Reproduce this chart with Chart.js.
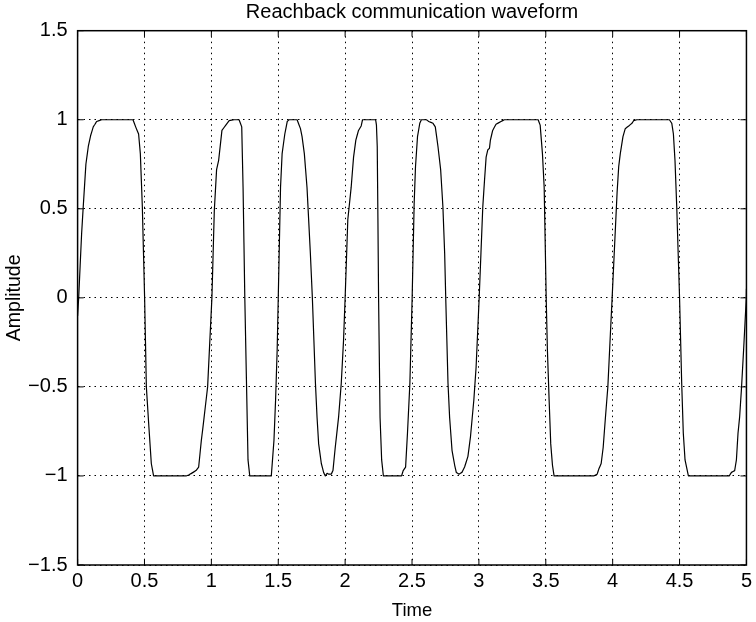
<!DOCTYPE html>
<html>
<head>
<meta charset="utf-8">
<script src="https://cdn.jsdelivr.net/npm/chart.js@4.4.1/dist/chart.umd.min.js"></script>
<style>
  html, body { margin: 0; padding: 0; background: #fff; }
  #wrap { width: 756px; height: 622px; }
</style>
</head>
<body>
<div id="wrap"><canvas id="c" width="756" height="622"></canvas></div>
<script>
// ---- data ----
const times = [
  0, 0.008, 0.03, 0.042, 0.062, 0.08, 0.097, 0.117, 0.13, 0.142, 0.18, 0.414, 0.434, 0.456, 0.469, 0.484, 0.501,
  0.514, 0.533, 0.551, 0.568, 0.811, 0.83, 0.848, 0.885, 0.905, 0.925, 0.935, 0.955, 0.972, 1.004,
  1.022, 1.039, 1.054, 1.079, 1.108, 1.133, 1.17, 1.207, 1.227, 1.237, 1.25,
  1.274, 1.287, 1.448, 1.468, 1.48, 1.492, 1.5,
  1.517, 1.529, 1.549, 1.567, 1.58, 1.641, 1.666, 1.678, 1.695, 1.715, 1.74, 1.755,
  1.778, 1.79, 1.802, 1.822, 1.839, 1.852, 1.865, 1.877, 1.896, 1.909, 1.926, 1.951, 1.971, 1.988, 2.0,
  2.02, 2.045, 2.063, 2.08, 2.1, 2.12, 2.13, 2.228, 2.234, 2.24, 2.245, 2.25,
  2.261, 2.273, 2.286, 2.422, 2.434, 2.452, 2.466, 2.484, 2.501,
  2.516, 2.526, 2.541, 2.558, 2.57, 2.608, 2.625, 2.657, 2.674, 2.694, 2.714, 2.731, 2.744, 2.752,
  2.769, 2.781, 2.799, 2.819, 2.831, 2.851, 2.873, 2.893, 2.918, 2.937, 2.962, 2.979, 3.002,
  3.029, 3.042, 3.054, 3.066, 3.079, 3.086, 3.103, 3.128, 3.165, 3.19, 3.443, 3.458, 3.475, 3.488, 3.497, 3.503,
  3.512, 3.525, 3.537, 3.55, 3.562, 3.859, 3.884, 3.897, 3.914, 3.929, 3.946, 3.964, 3.983, 3.996,
  4.033, 4.045, 4.057, 4.077, 4.094, 4.12, 4.144, 4.157, 4.181, 4.424, 4.442, 4.454, 4.466, 4.479, 4.5,
  4.516, 4.528, 4.541, 4.566, 4.871, 4.888, 4.912, 4.925, 4.937, 4.949, 4.962, 4.979, 4.999, 5.0
];
const amplitude = [
  -0.1, 0.0, 0.36, 0.51, 0.75, 0.85, 0.91, 0.96, 0.975, 0.99, 1.0, 1.0, 0.96, 0.92, 0.81, 0.51, 0.0,
  -0.5, -0.725, -0.93, -1.0, -1.0, -0.995, -0.987, -0.97, -0.95, -0.8, -0.74, -0.61, -0.5, 0.0,
  0.49, 0.72, 0.77, 0.94, 0.97, 0.995, 1.0, 1.0, 0.96, 0.62, 0.0,
  -0.91, -1.0, -1.0, -0.8, -0.575, -0.29, 0.0,
  0.62, 0.81, 0.92, 0.99, 1.0, 1.0, 0.95, 0.905, 0.81, 0.62, 0.25, 0.0,
  -0.48, -0.67, -0.82, -0.93, -0.98, -1.0, -0.985, -0.99, -0.99, -0.97, -0.84, -0.67, -0.48, -0.24, 0.0,
  0.44, 0.62, 0.79, 0.886, 0.94, 0.965, 1.0, 1.0, 0.97, 0.85, 0.45, 0.0,
  -0.67, -0.91, -1.0, -1.0, -0.97, -0.95, -0.76, -0.48, 0.0,
  0.53, 0.736, 0.905, 0.98, 1.0, 1.0, 0.99, 0.98, 0.96, 0.85, 0.72, 0.51, 0.25, 0.0,
  -0.48, -0.67, -0.856, -0.94, -0.98, -0.99, -0.98, -0.95, -0.89, -0.78, -0.575, -0.39, 0.0,
  0.51, 0.66, 0.79, 0.83, 0.84, 0.886, 0.94, 0.975, 0.99, 1.0, 1.0, 0.97, 0.81, 0.62, 0.25, 0.0,
  -0.29, -0.575, -0.82, -0.94, -1.0, -1.0, -0.99, -0.96, -0.93, -0.84, -0.67, -0.5, -0.2, 0.0,
  0.59, 0.736, 0.81, 0.905, 0.95, 0.965, 0.98, 0.995, 1.0, 1.0, 0.98, 0.92, 0.77, 0.51, 0.0,
  -0.48, -0.76, -0.91, -1.0, -1.0, -0.98, -0.97, -0.91, -0.76, -0.67, -0.52, -0.29, 0.0, 0.05
];
const xTicks = [0, 0.5, 1, 1.5, 2, 2.5, 3, 3.5, 4, 4.5, 5];
const yTicks = [-1.5, -1, -0.5, 0, 0.5, 1, 1.5];
const titleText = 'Reachback communication waveform';
const xLabel = 'Time';
const yLabel = 'Amplitude';

const FONT = "'Liberation Sans', Arial, Helvetica, sans-serif";
const fmt = v => (v < 0 ? '\u2212' + String(-v) : String(v));

// frame with inward tick marks on all four sides
const framePlugin = {
  id: 'frame',
  afterDatasetsDraw(chart) {
    const { ctx, chartArea: a, scales } = chart;
    ctx.save();
    ctx.strokeStyle = '#000';
    ctx.lineWidth = 1.5;
    ctx.setLineDash([]);
    ctx.strokeRect(a.left, a.top, a.right - a.left, a.bottom - a.top);
    ctx.lineWidth = 1;
    const L = 6;
    ctx.beginPath();
    xTicks.forEach(v => {
      const px = scales.x.getPixelForValue(v);
      ctx.moveTo(px, a.bottom); ctx.lineTo(px, a.bottom - L);
      ctx.moveTo(px, a.top); ctx.lineTo(px, a.top + L);
    });
    yTicks.forEach(v => {
      const py = scales.y.getPixelForValue(v);
      ctx.moveTo(a.left, py); ctx.lineTo(a.left + L, py);
      ctx.moveTo(a.right, py); ctx.lineTo(a.right - L, py);
    });
    ctx.stroke();
    ctx.restore();
  }
};

new Chart(document.getElementById('c'), {
  type: 'line',
  data: {
    datasets: [{
      data: times.map((t, i) => ({ x: t, y: amplitude[i] })),
      borderColor: '#000',
      borderWidth: 1.2,
      borderJoinStyle: 'round',
      borderCapStyle: 'round',
      pointRadius: 0,
      tension: 0.0001,
      fill: false
    }]
  },
  options: {
    responsive: false,
    animation: false,
    devicePixelRatio: 1,
    layout: { padding: { top: 0, right: 5.7, left: 0, bottom: 0 } },
    plugins: {
      legend: { display: false },
      tooltip: { enabled: false },
      title: {
        display: true,
        text: titleText,
        color: '#000',
        fullSize: false,
        font: { family: FONT, size: 20, weight: 'normal', lineHeight: 1.2 },
        padding: { top: 0, bottom: 6.7 }
      }
    },
    scales: {
      x: {
        type: 'linear',
        min: 0, max: 5,
        afterBuildTicks: s => { s.ticks = xTicks.map(v => ({ value: v })); },
        afterFit: s => { s.height = 57; },
        ticks: {
          color: '#000',
          font: { family: FONT, size: 20 },
          padding: 4,
          maxRotation: 0,
          autoSkip: false,
          callback: v => fmt(v)
        },
        grid: {
          color: '#000',
          lineWidth: 1,
          drawTicks: false
        },
        border: { display: false, dash: [1.5, 4] },
        title: {
          display: true, text: xLabel, color: '#000',
          font: { family: FONT, size: 18.5 },
          padding: { top: 0, bottom: 0 }
        }
      },
      y: {
        type: 'linear',
        min: -1.5, max: 1.5,
        afterBuildTicks: s => { s.ticks = yTicks.map(v => ({ value: v })); },
        afterFit: s => { s.width = 77.6; },
        ticks: {
          color: '#000',
          font: { family: FONT, size: 20 },
          padding: 10,
          autoSkip: false,
          callback: v => fmt(v)
        },
        grid: {
          color: '#000',
          lineWidth: 1,
          drawTicks: false
        },
        border: { display: false, dash: [1.5, 4] },
        title: {
          display: true, text: yLabel, color: '#000',
          font: { family: FONT, size: 19.5 },
          padding: { top: 3, bottom: 0 }
        }
      }
    }
  },
  plugins: [framePlugin]
});
</script>
</body>
</html>
